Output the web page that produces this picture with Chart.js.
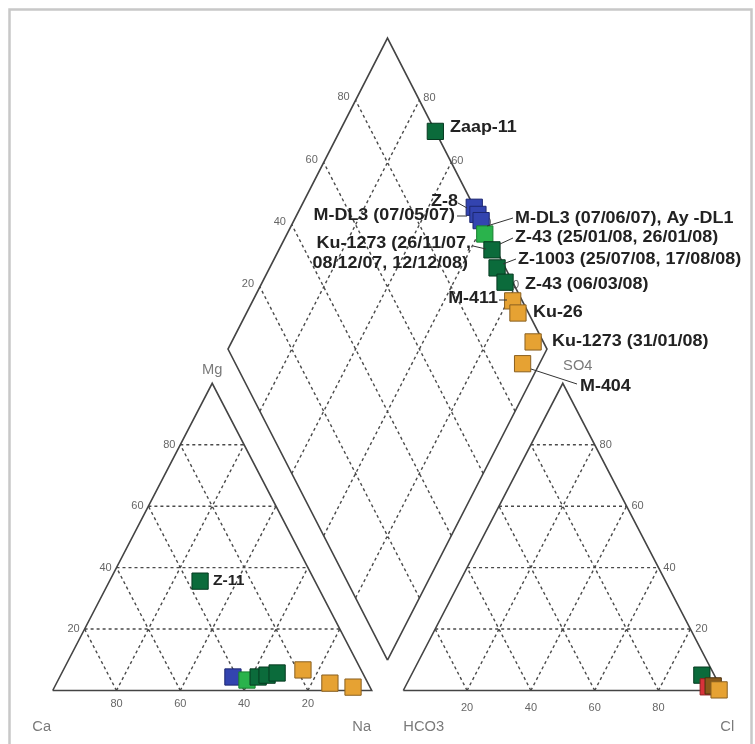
<!DOCTYPE html>
<html>
<head>
  <title>Piper Diagram</title>
  <script src="https://cdn.jsdelivr.net/npm/chart.js"></script>
  <style>
    body { margin: 0; background: #fff; }
    #wrap { width: 755px; height: 744px; }
  </style>
</head>
<body>
<div id="wrap"><canvas id="piper"></canvas></div>
<script>
  // cation triangle, % meq/l
  const cationMg = [35.6, 4.4, 3.4, 4.4, 5.0, 5.7, 6.7, 2.4, 1.1];
  const cationNa = [28.4, 54.3, 59.2, 62.2, 64.7, 67.5, 75.1, 85.7, 93.6];
  const cationGroup = ["dg", "blue", "lg", "dg", "dg", "dg", "or", "or", "or"];

  // anion triangle, % meq/l
  const anionSO4 = [5.0, 1.2, 1.5, 0.2];
  const anionCl = [91.1, 95.0, 96.4, 98.9];
  const anionGroup = ["dg", "red", "br", "or"];

  // diamond: SO4+Cl and Ca+Mg axes, %
  const diamondSO4Cl = [100, 100, 100, 100, 99, 98.7, 97.4, 97.6, 97, 96.7, 96.8, 90];
  const diamondCaMg = [70, 45.6, 43.3, 41.3, 38, 33.2, 28.7, 23.9, 18.5, 14.9, 5.5, 5.3];
  const diamondGroup = ["dg", "blue", "blue", "blue", "lg", "dg", "dg", "dg", "or", "or", "or", "or"];

  const gridTicks = [20, 40, 60, 80];

  const sampleLabels = ["Zaap-11", "Z-8", "M-DL3 (07/05/07)", "M-DL3 (07/06/07), Ay -DL1",
    "Z-43 (25/01/08, 26/01/08)", "Ku-1273 (26/11/07,", "08/12/07, 12/12/08)",
    "Z-1003 (25/07/08, 17/08/08)", "Z-43 (06/03/08)", "M-411", "Ku-26",
    "Ku-1273 (31/01/08)", "M-404", "Z-11"];

  // ---- layout ----
  const W = 755, H = 744;
  const ORIGIN = { x: 52.7, y: 690.5 };   // Ca corner in px
  const SIDE = 319, HEIGHT = 307.2;        // triangle size in px
  const G = 0.099;                         // gap between triangles (side units)
  const DH = 1.0124;                       // diamond half height (triangle heights)

  const fill = { dg: "#0b6b3b", blue: "#3344b0", lg: "#2ab34c", or: "#e6a233", red: "#d8323a", br: "#8a5a1a" };
  const edge = { dg: "#063a20", blue: "#1d2770", lg: "#188030", or: "#8a6020", red: "#902020", br: "#4a3010" };

  // label layout: px, align, optional leader line
  const labelLayout = [
    { x: 450, y: 128, align: "left" },
    { x: 431, y: 202, align: "left", lead: [458, 203, 467, 208] },
    { x: 455, y: 216, align: "right", lead: [457, 216, 467, 216] },
    { x: 515, y: 219, align: "left", lead: [487, 226, 513, 218] },
    { x: 515, y: 238, align: "left", lead: [500, 244, 513, 238] },
    { x: 471, y: 244, align: "right", lead: [473, 246, 486, 249] },
    { x: 468, y: 264, align: "right" },
    { x: 518, y: 260, align: "left", lead: [503, 264, 516, 259] },
    { x: 525, y: 285, align: "left" },
    { x: 498, y: 299, align: "right", lead: [499, 300, 507, 300] },
    { x: 533, y: 313, align: "left" },
    { x: 552, y: 342, align: "left" },
    { x: 580, y: 387, align: "left", lead: [531, 369, 577, 384] },
    { x: 213, y: 581, align: "left", small: true }
  ];

  function cat(mg, na) { return { x: (na + mg / 2) / 100, y: mg / 100 }; }
  function ani(so4, cl) { return { x: 1 + G + (cl + so4 / 2) / 100, y: so4 / 100 }; }
  function dia(u, v) { return { x: 1 + G / 2 + 0.5 * (u - v) / 100, y: G + DH * (u + v) / 100 }; }
  const GAP = { x: null, y: null };

  const outline = [
    cat(0, 0), cat(0, 100), cat(100, 0), cat(0, 0), GAP,
    ani(0, 0), ani(0, 100), ani(100, 0), ani(0, 0), GAP,
    dia(0, 0), dia(100, 0), dia(100, 100), dia(0, 100), dia(0, 0)
  ];

  const grid = [];
  gridTicks.forEach(k => {
    grid.push(cat(k, 0), cat(k, 100 - k), GAP);
    grid.push(cat(0, k), cat(100 - k, k), GAP);
    grid.push(cat(0, 100 - k), cat(100 - k, 0), GAP);
    grid.push(ani(k, 0), ani(k, 100 - k), GAP);
    grid.push(ani(0, k), ani(100 - k, k), GAP);
    grid.push(ani(0, 100 - k), ani(100 - k, 0), GAP);
    grid.push(dia(k, 0), dia(k, 100), GAP);
    grid.push(dia(0, k), dia(100, k), GAP);
  });

  const cationPts = cationMg.map((mg, i) => cat(mg, cationNa[i]));
  const anionPts = anionSO4.map((s, i) => ani(s, anionCl[i]));
  const diamondPts = diamondSO4Cl.map((u, i) => dia(u, diamondCaMg[i]));

  function markers(pts, groups, label) {
    return {
      type: "scatter", label: label, data: pts, order: 0,
      pointStyle: "rect", pointRadius: 11.5,
      pointBackgroundColor: groups.map(g => fill[g]),
      pointBorderColor: groups.map(g => edge[g]),
      pointBorderWidth: 1
    };
  }

  function drawText(ctx, str, x, y, align, font, color, sx) {
    ctx.save();
    ctx.font = font;
    ctx.fillStyle = color;
    ctx.textBaseline = "middle";
    ctx.textAlign = "left";
    const w = ctx.measureText(str).width * sx;
    const left = align === "right" ? x - w : align === "center" ? x - w / 2 : x;
    ctx.translate(left, y);
    ctx.scale(sx, 1);
    ctx.fillText(str, 0, 0);
    ctx.restore();
  }

  const piperText = {
    id: "piperText",
    beforeDraw(chart) {
      const ctx = chart.ctx;
      ctx.save();
      ctx.fillStyle = "#fff";
      ctx.fillRect(0, 0, W, H);
      ctx.strokeStyle = "#c8c8c8";
      ctx.lineWidth = 2.5;
      ctx.strokeRect(9.5, 9.5, 742, 760);
      ctx.restore();
    },
    beforeDatasetsDraw(chart) {
      const ctx = chart.ctx, sx = chart.scales.x, sy = chart.scales.y;
      const px = p => ({ x: sx.getPixelForValue(p.x), y: sy.getPixelForValue(p.y) });
      const tf = "11px 'Liberation Sans', Arial, sans-serif", tc = "#666";
      gridTicks.forEach(k => {
        let p = px(cat(k, 0));
        drawText(ctx, String(k), p.x - 11, p.y, "center", tf, tc, 1);
        p = px(cat(0, 100 - k));
        drawText(ctx, String(k), p.x, p.y + 13, "center", tf, tc, 1);
        p = px(ani(k, 100 - k));
        drawText(ctx, String(k), p.x + 11, p.y, "center", tf, tc, 1);
        p = px(ani(0, k));
        drawText(ctx, String(k), p.x, p.y + 17, "center", tf, tc, 1);
        p = px(dia(k, 100));
        drawText(ctx, String(k), p.x - 12, p.y - 3, "center", tf, tc, 1);
        p = px(dia(100, k));
        drawText(ctx, String(k), p.x - 6 + 0.2 * k, p.y - 2, "center", tf, tc, 1);
      });
      const cf = "14px 'Liberation Sans', Arial, sans-serif", cc = "#7a7a7a";
      let p = px(cat(100, 0));
      drawText(ctx, "Mg", p.x, p.y - 13, "center", cf, cc, 1.05);
      p = px(cat(0, 0));
      drawText(ctx, "Ca", p.x - 11, p.y + 37, "center", cf, cc, 1.05);
      p = px(cat(0, 100));
      drawText(ctx, "Na", p.x - 10, p.y + 37, "center", cf, cc, 1.05);
      p = px(ani(0, 0));
      drawText(ctx, "HCO3", p.x, p.y + 37, "left", cf, cc, 1.05);
      p = px(ani(0, 100));
      drawText(ctx, "Cl", p.x + 5, p.y + 37, "center", cf, cc, 1.05);
      p = px(ani(100, 0));
      drawText(ctx, "SO4", p.x + 15, p.y - 17, "center", cf, cc, 1.05);
    },
    afterDatasetsDraw(chart) {
      const ctx = chart.ctx;
      ctx.save();
      ctx.strokeStyle = "#333";
      ctx.lineWidth = 1;
      labelLayout.forEach(l => {
        if (!l.lead) return;
        ctx.beginPath();
        ctx.moveTo(l.lead[0], l.lead[1]);
        ctx.lineTo(l.lead[2], l.lead[3]);
        ctx.stroke();
      });
      ctx.restore();
      sampleLabels.forEach((s, i) => {
        const l = labelLayout[i];
        const f = l.small ? "bold 14px 'Liberation Sans', Arial, sans-serif"
                          : "bold 16px 'Liberation Sans', Arial, sans-serif";
        drawText(ctx, s, l.x, l.y, l.align, f, "#222", 1.12);
      });
    }
  };

  new Chart(document.getElementById("piper"), {
    type: "scatter",
    data: {
      datasets: [
        markers(diamondPts, diamondGroup, "diamond"),
        markers(cationPts, cationGroup, "cations"),
        markers(anionPts, anionGroup, "anions"),
        {
          type: "line", label: "outline", data: outline, order: 1,
          showLine: true, spanGaps: false, pointRadius: 0,
          borderColor: "#444", borderWidth: 1.6, fill: false
        },
        {
          type: "line", label: "grid", data: grid, order: 2,
          showLine: true, spanGaps: false, pointRadius: 0,
          borderColor: "#4a4a4a", borderWidth: 1.4, borderDash: [3, 3], fill: false
        }
      ]
    },
    options: {
      responsive: true,
      maintainAspectRatio: false,
      animation: false,
      layout: { padding: 0, autoPadding: false },
      plugins: { legend: { display: false }, tooltip: { enabled: false } },
      scales: {
        x: { type: "linear", display: false, min: -ORIGIN.x / SIDE, max: (W - ORIGIN.x) / SIDE },
        y: { type: "linear", display: false, min: -(H - ORIGIN.y) / HEIGHT, max: ORIGIN.y / HEIGHT }
      }
    },
    plugins: [piperText]
  });
</script>
</body>
</html>
